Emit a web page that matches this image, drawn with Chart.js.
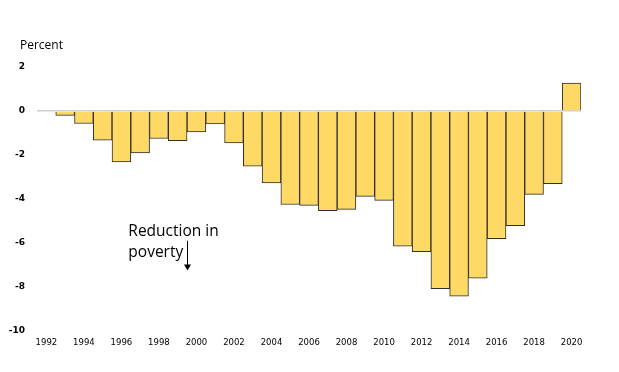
<!DOCTYPE html>
<html>
<head>
<meta charset="utf-8">
<script src="https://cdn.jsdelivr.net/npm/chart.js@4"></script>
<style>
  html, body { margin: 0; padding: 0; background: #fff; }
  #wrap { width: 619px; height: 372px; position: relative; }
</style>
</head>
<body>
<div id="wrap"><canvas id="myChart"></canvas></div>
<script>
const anos = ["1992","1993","1994","1995","1996","1997","1998","1999","2000","2001",
  "2002","2003","2004","2005","2006","2007","2008","2009","2010","2011",
  "2012","2013","2014","2015","2016","2017","2018","2019","2020"];
const valores = [0, -0.2, -0.57, -1.33, -2.32, -1.9, -1.25, -1.35, -0.95, -0.59,
  -1.45, -2.51, -3.27, -4.25, -4.29, -4.53, -4.47, -3.88, -4.06, -6.14,
  -6.39, -8.08, -8.42, -7.6, -5.8, -5.21, -3.79, -3.3, 1.27];
const yTicks = [2, 0, -2, -4, -6, -8, -10];

// annotation, in data units (category index, value)
const nota = { linhas: ["Reduction in", "poverty"], x: 4.37, y: [-5.5, -6.42], setaX: 7.5, setaDe: -5.9, setaAte: -7.25 };

const textos = {
  id: "textos",
  afterDraw(chart) {
    const ctx = chart.ctx;
    const xs = chart.scales.x, ys = chart.scales.y;
    const passo = xs.getPixelForValue(1) - xs.getPixelForValue(0);
    ctx.save();
    ctx.fillStyle = "#000";
    ctx.font = "12px 'Open Sans'";
    ctx.textBaseline = "middle";
    ctx.textAlign = "left";
    ctx.fillText("Percent", 20, 46);

    ctx.font = "15.5px 'Open Sans'";
    const tx = xs.getPixelForValue(0) + nota.x * passo;
    nota.linhas.forEach((l, i) => ctx.fillText(l, tx, ys.getPixelForValue(nota.y[i])));

    const ax = Math.round(xs.getPixelForValue(0) + nota.setaX * passo) + 0.5;
    const y1 = ys.getPixelForValue(nota.setaDe), y2 = ys.getPixelForValue(nota.setaAte);
    ctx.strokeStyle = "#000";
    ctx.lineWidth = 1;
    ctx.beginPath();
    ctx.moveTo(ax, y1);
    ctx.lineTo(ax, y2 - 5);
    ctx.stroke();
    ctx.beginPath();
    ctx.moveTo(ax - 3.5, y2 - 6);
    ctx.lineTo(ax + 3.5, y2 - 6);
    ctx.lineTo(ax, y2);
    ctx.closePath();
    ctx.fill();
    ctx.restore();
  }
};

new Chart(document.getElementById("myChart"), {
  type: "bar",
  data: {
    labels: anos,
    datasets: [{
      data: valores,
      backgroundColor: "#FFD966",
      borderColor: "#2f2f2f",
      borderWidth: 1,
      borderSkipped: "start",
      categoryPercentage: 1,
      barPercentage: 1
    }]
  },
  options: {
    responsive: true,
    maintainAspectRatio: false,
    animation: false,
    layout: { padding: { top: 67, right: 38, bottom: 19, left: 0 } },
    plugins: { legend: { display: false }, tooltip: { enabled: false } },
    scales: {
      x: {
        grid: { display: false, drawTicks: false },
        border: { display: false },
        ticks: {
          autoSkip: false,
          maxRotation: 0,
          padding: 7,
          color: "#000",
          font: { family: "'DejaVu Sans'", size: 8.5 },
          callback: (v, i) => (i % 2 === 0 ? anos[i] : "")
        },
        afterFit: (s) => { s.height = 22; }
      },
      y: {
        min: -10,
        max: 2,
        z: 1,
        afterBuildTicks: (s) => { s.ticks = yTicks.map((v) => ({ value: v })); },
        grid: {
          drawTicks: false,
          color: (c) => (c.tick && c.tick.value === 0 ? "#d0d0d0" : "rgba(0,0,0,0)"),
          lineWidth: 1.5
        },
        border: { display: false },
        ticks: {
          padding: 12,
          color: "#000",
          font: { family: "'DejaVu Sans'", size: 9, weight: "bold" }
        },
        afterFit: (s) => { s.width = 37; }
      }
    }
  },
  plugins: [textos]
});
</script>
</body>
</html>
